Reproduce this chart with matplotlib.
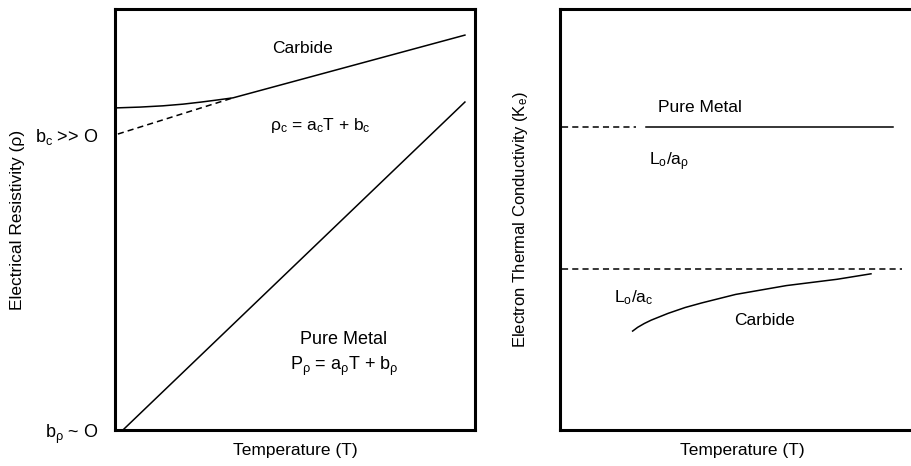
import matplotlib
matplotlib.use("Agg")
import matplotlib.pyplot as plt

plt.rcParams['font.family'] = ['Liberation Sans', 'DejaVu Sans']
plt.rcParams['mathtext.fontset'] = 'custom'
plt.rcParams['mathtext.rm'] = 'Liberation Sans'
plt.rcParams['mathtext.it'] = 'Liberation Sans'
plt.rcParams['mathtext.default'] = 'regular'

# ---- Left panel data (T in 0..100, rho in 0..100 arbitrary units) ----
carbide_T = [0, 6.9, 13.3, 18.9, 24.0, 28.5, 32.8, 97.2]
carbide_rho = [76.5, 76.7, 77.0, 77.4, 77.9, 78.4, 78.9, 93.8]
carbide_ext_T = [0.8, 32.8]
carbide_ext_rho = [70.3, 78.9]
metal_T = [2.2, 97.2]
metal_rho = [0.0, 77.9]
left_ticks = [0.0, 70.3]
left_ticklabels = [r'$b_\rho$ ~ O', r'$b_c$ >> O']

# ---- Right panel data ----
metal_K = 72.0
metal_dash_T = [0.5, 20.8]
metal_solid_T = [23.6, 91.1]
carbide_limit_K = 38.2
carbide_limit_T = [0.5, 93.6]
carbide_k_T = [19.9, 21.3, 23.1, 25.0, 29.6, 34.3, 38.9, 48.1, 62.0, 75.9, 85.2]
carbide_k_K = [23.5, 24.4, 25.3, 26.1, 27.7, 29.1, 30.2, 32.2, 34.3, 35.8, 37.1]

W, H = 912, 466
fig = plt.figure(figsize=(W / 100, H / 100), dpi=100)

def px_axes(x0, y0, x1, y1):
    return fig.add_axes([x0 / W, (H - y1) / H, (x1 - x0) / W, (y1 - y0) / H])

lw = 1.1
dash = (4, 2.7)
fs = 12.5

axL = px_axes(115, 9, 475, 430)
axR = px_axes(560, 9, 925, 430)

for ax in (axL, axR):
    ax.set_xlim(0, 100)
    ax.set_ylim(0, 100)
    for s in ax.spines.values():
        s.set_linewidth(2.2)
    ax.set_xticks([])
    ax.set_xlabel('Temperature (T)', fontsize=fs, labelpad=9)

axL.plot(carbide_T, carbide_rho, color='black', lw=lw)
axL.plot(carbide_ext_T, carbide_ext_rho, color='black', lw=lw, dashes=dash)
axL.plot(metal_T, metal_rho, color='black', lw=lw)
axL.set_yticks(left_ticks)
axL.set_yticklabels(left_ticklabels, fontsize=fs + 0.5)
axL.tick_params(axis='y', length=0, pad=12)
axL.set_ylabel('Electrical Resistivity (ρ)', fontsize=fs)
axL.yaxis.set_label_coords(-90 / 360, 0.5)
axL.text(52.2, 90.5, 'Carbide', fontsize=fs, ha='center', va='center')
axL.text(43.0, 72.4, r'$\rho_c$ = $a_c$T + $b_c$', fontsize=fs, ha='left', va='center')
axL.text(63.6, 21.4, 'Pure Metal', fontsize=fs + 0.5, ha='center', va='center')
axL.text(63.6, 15.0, r'$P_\rho$ = $a_\rho$T + $b_\rho$', fontsize=fs + 0.5, ha='center', va='center')

axR.plot(metal_dash_T, [metal_K, metal_K], color='black', lw=lw, dashes=dash)
axR.plot(metal_solid_T, [metal_K, metal_K], color='black', lw=lw)
axR.plot(carbide_limit_T, [carbide_limit_K, carbide_limit_K], color='black', lw=lw, dashes=dash)
axR.plot(carbide_k_T, carbide_k_K, color='black', lw=lw)
axR.set_yticks([])
axR.set_ylabel('Electron Thermal Conductivity ($K_e$)', fontsize=fs - 0.5)
axR.yaxis.set_label_coords(-30 / 365, 0.5)
axR.text(38.4, 76.7, 'Pure Metal', fontsize=fs, ha='center', va='center')
axR.text(24.4, 63.7, r'$L_o/a_\rho$', fontsize=fs, ha='left', va='center')
axR.text(14.7, 31.4, r'$L_o/a_c$', fontsize=fs, ha='left', va='center')
axR.text(56.0, 26.1, 'Carbide', fontsize=fs, ha='center', va='center')

fig.savefig('out.png', dpi=100)
